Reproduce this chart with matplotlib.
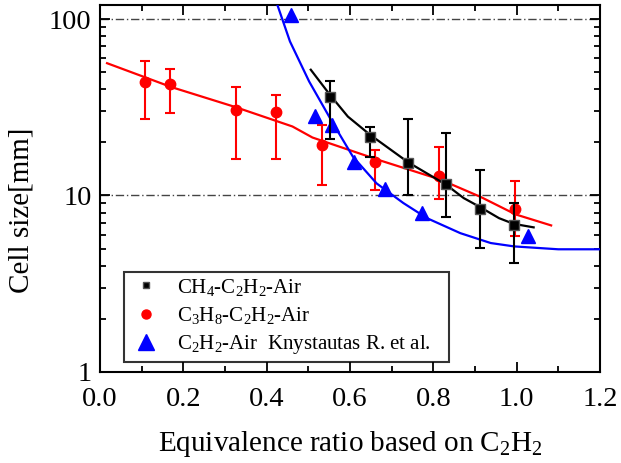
import matplotlib
matplotlib.use('Agg')
import matplotlib.pyplot as plt
from matplotlib.lines import Line2D
from matplotlib.ticker import MultipleLocator, LogLocator, NullFormatter, FixedFormatter, FixedLocator

plt.rcParams['font.family'] = ['Liberation Serif', 'DejaVu Serif']
plt.rcParams['mathtext.fontset'] = 'custom'
plt.rcParams['mathtext.rm'] = 'Liberation Serif'
plt.rcParams['mathtext.it'] = 'Liberation Serif:italic'

# CH4-C2H2-Air measurements
ch4_x = [0.552, 0.648, 0.740, 0.831, 0.912, 0.993]
ch4_y = [36.1, 21.4, 15.2, 11.6, 8.4, 6.8]
ch4_hi = [44.5, 24.3, 27.2, 22.6, 14.0, 9.0]
ch4_lo = [21.0, 16.6, 10.0, 7.5, 5.05, 4.15]
ch4_fit_x = [0.506, 0.552, 0.595, 0.648, 0.740, 0.831, 0.873, 0.912, 0.958, 0.993, 1.041]
ch4_fit_y = [51.6, 37.2, 28.0, 22.1, 15.4, 11.5, 9.66, 8.6, 7.43, 6.9, 6.59]

# C3H8-C2H2-Air measurements
c3h8_x = [0.107, 0.169, 0.327, 0.422, 0.532, 0.660, 0.815, 0.996]
c3h8_y = [43.7, 42.8, 30.4, 29.7, 19.4, 15.4, 12.9, 8.4]
c3h8_hi = [57.5, 51.9, 41.0, 36.9, 25.0, 18.2, 18.9, 12.0]
c3h8_lo = [27.1, 29.2, 16.0, 16.0, 11.4, 10.8, 9.5, 5.9]
c3h8_fit_x = [0.017, 0.172, 0.325, 0.462, 0.510, 0.672, 0.817, 0.914, 0.998, 1.083]
c3h8_fit_y = [56.2, 41.1, 31.7, 24.6, 21.3, 15.8, 12.3, 9.8, 7.8, 6.76]

# C2H2-Air, Knystautas R. et al.
c2h2_x = [0.458, 0.517, 0.557, 0.609, 0.684, 0.773, 1.027]
c2h2_y = [105, 28.3, 25.0, 15.4, 10.9, 8.0, 5.86]
c2h2_fit_x = [0.426, 0.456, 0.502, 0.559, 0.607, 0.664, 0.728, 0.785, 0.865, 0.938, 0.994, 1.10, 1.20]
c2h2_fit_y = [120, 74.7, 44.3, 25.7, 16.6, 11.7, 9.06, 7.43, 6.11, 5.37, 5.14, 4.95, 4.95]

labels = [r'CH$_4$-C$_2$H$_2$-Air', r'C$_3$H$_8$-C$_2$H$_2$-Air',
          r'C$_2$H$_2$-Air  Knystautas R. et al.']

fig = plt.figure(figsize=(6.21, 4.63), dpi=100)
ax = fig.add_axes([0.161, 0.197, 0.805, 0.792])
ax.set_yscale('log')

dashdot = (0, (6, 2, 1, 2))
ax.axhline(10, color='#444444', ls=dashdot, lw=1.0, zorder=1)
ax.axhline(100, color='#444444', ls=dashdot, lw=1.0, zorder=1)

ax.plot(c3h8_fit_x, c3h8_fit_y, color='red', lw=1.6, zorder=2)
err_r = [[y - l for y, l in zip(c3h8_y, c3h8_lo)], [h - y for y, h in zip(c3h8_y, c3h8_hi)]]
ax.errorbar(c3h8_x, c3h8_y, yerr=err_r, fmt='o', color='red', ms=7.5, capsize=3.5,
            elinewidth=1.5, capthick=1.5, zorder=3)

ax.plot(c2h2_fit_x, c2h2_fit_y, color='blue', lw=1.6, zorder=4)
ax.plot(c2h2_x, c2h2_y, '^', color='blue', ms=10.5, ls='none', zorder=5)

ax.plot(ch4_fit_x, ch4_fit_y, color='black', lw=1.6, zorder=6)
err_b = [[y - l for y, l in zip(ch4_y, ch4_lo)], [h - y for y, h in zip(ch4_y, ch4_hi)]]
ax.errorbar(ch4_x, ch4_y, yerr=err_b, fmt='s', color='black', mfc='black', mec='#555555',
            ms=6.5, capsize=3.5, elinewidth=1.5, capthick=1.5, zorder=7)

ax.set_xlim(0.0, 1.2)
ax.set_ylim(1, 120)
ax.xaxis.set_major_locator(MultipleLocator(0.2))
ax.xaxis.set_minor_locator(MultipleLocator(0.1))
ax.xaxis.set_major_formatter(plt.FormatStrFormatter('%.1f'))
ax.yaxis.set_major_locator(FixedLocator([1, 10, 100]))
ax.yaxis.set_major_formatter(FixedFormatter(['1', '10', '100']))
ax.yaxis.set_minor_locator(LogLocator(base=10, subs=range(2, 10)))
ax.yaxis.set_minor_formatter(NullFormatter())
ax.tick_params(which='both', direction='in', top=True, right=True, labelsize=20.5, width=1.3)
ax.tick_params(which='major', length=7)
ax.tick_params(which='minor', length=4)
ax.tick_params(axis='x', which='major', pad=11)
ax.tick_params(axis='y', which='major', pad=6)
for s in ax.spines.values():
    s.set_linewidth(1.5)

ax.set_xlabel(r'Equivalence ratio based on C$_2$H$_2$', fontsize=21)
ax.xaxis.set_label_coords(0.5, -0.155)
ax.set_ylabel('Cell size[mm]', fontsize=21)
ax.yaxis.set_label_coords(-0.13, 0.44)

handles = [
    Line2D([], [], marker='s', color='black', mec='#555555', ms=5, ls='none'),
    Line2D([], [], marker='o', color='red', ms=6.5, ls='none'),
    Line2D([], [], marker='^', color='blue', ms=11, ls='none'),
]
leg = ax.legend(handles, labels, loc='lower left', mode='expand',
                bbox_to_anchor=(0.048, 0.028, 0.65, 0.25), borderaxespad=0,
                fontsize=15, frameon=True, fancybox=False, edgecolor='black',
                handlelength=1.65, handletextpad=0.65, borderpad=0.25, labelspacing=0.35)
leg.get_frame().set_linewidth(1.5)

plt.savefig('out.png', dpi=100)
